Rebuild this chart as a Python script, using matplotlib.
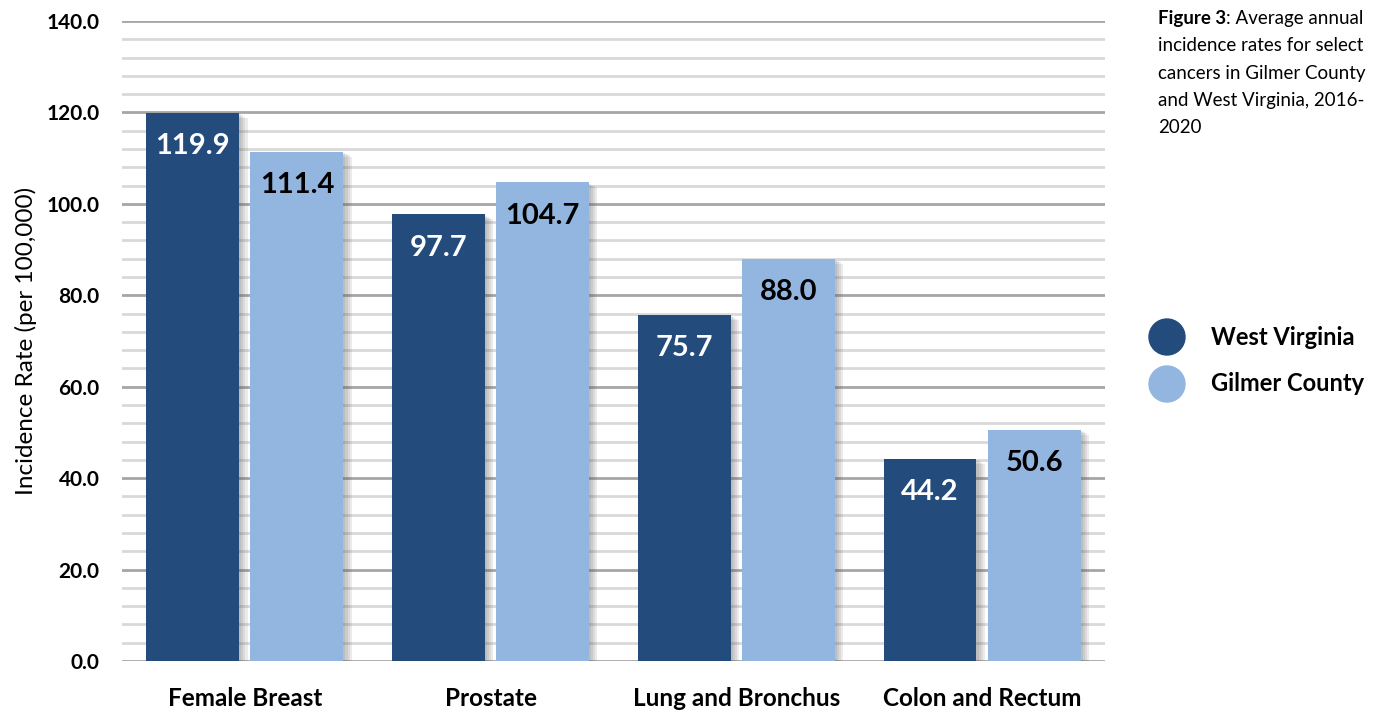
import matplotlib
matplotlib.use("Agg")
import matplotlib.pyplot as plt
import matplotlib.patheffects as pe
from matplotlib.patches import Circle
import numpy as np

plt.rcParams['font.family'] = ['Lato', 'DejaVu Sans']

# data
categories = ["Female Breast", "Prostate", "Lung and Bronchus", "Colon and Rectum"]
west_virginia = [119.9, 97.7, 75.7, 44.2]
gilmer_county = [111.4, 104.7, 88.0, 50.6]
series_names = ["West Virginia", "Gilmer County"]
caption_lines = ["incidence rates for select", "cancers in Gilmer County",
                 "and West Virginia, 2016-", "2020"]

dark_blue = "#234B7B"
light_blue = "#93B6E0"

fig = plt.figure(figsize=(13.89, 7.11), dpi=100)
ax = fig.add_axes([0.0878, 0.0703, 0.7077, 0.9002])

x = np.arange(len(categories))
width = 0.378
offset = 0.212

# soft drop shadow: a few stacked translucent copies
shadow = [pe.SimplePatchShadow(offset=(d, -d * 0.6), shadow_rgbFace="#606060", alpha=0.12)
          for d in (1.5, 3, 4.5, 6)] + [pe.Normal()]
bars_wv = ax.bar(x - offset, west_virginia, width, color=dark_blue, zorder=3)
bars_gc = ax.bar(x + offset, gilmer_county, width, color=light_blue, zorder=3)
for b in list(bars_wv) + list(bars_gc):
    b.set_path_effects(shadow)

for b, v in zip(bars_wv, west_virginia):
    ax.annotate(f"{v:.1f}", (b.get_x() + b.get_width() / 2, v), xytext=(0, -24),
                textcoords="offset points", ha="center", va="center",
                fontsize=21, fontweight="bold", color="white", zorder=4)
for b, v in zip(bars_gc, gilmer_county):
    ax.annotate(f"{v:.1f}", (b.get_x() + b.get_width() / 2, v), xytext=(0, -24),
                textcoords="offset points", ha="center", va="center",
                fontsize=21, fontweight="bold", color="black", zorder=4)

ax.set_xlim(-0.5, 3.5)
ax.set_ylim(0, 140)
ax.set_yticks(np.arange(0, 141, 20))
ax.set_yticklabels([f"{t:.1f}" for t in np.arange(0, 141, 20)], fontsize=15, fontweight="bold")
ax.set_yticks(np.arange(0, 141, 4), minor=True)
ax.set_xticks(x)
ax.set_xticklabels(categories, fontsize=17.5, fontweight="bold")
ax.tick_params(axis="y", which="both", length=0, pad=16)
ax.tick_params(axis="x", length=0, pad=19)

ax.grid(axis="y", which="minor", color="#D9D9D9", linewidth=2, zorder=0)
ax.grid(axis="y", which="major", color="#A6A6A6", linewidth=2, zorder=1)
for s in ax.spines.values():
    s.set_visible(False)

ax.set_ylabel("Incidence Rate (per 100,000)", fontsize=17.5, labelpad=7)

# caption
t1 = fig.text(1158 / 1389, 1 - 24 / 711, "Figure 3", fontsize=13.5, fontweight="bold",
              va="baseline", ha="left")
ax.annotate(": Average annual", xy=(1, 0), xycoords=t1, va="bottom", ha="left",
            fontsize=13.5, annotation_clip=False)
for i, line in enumerate(caption_lines):
    fig.text(1158 / 1389, 1 - (24 + 27.3 * (i + 1)) / 711, line, fontsize=13.5,
             va="baseline", ha="left")

# legend
for name, col, yy in zip(series_names, [dark_blue, light_blue], [337, 384]):
    fig.patches.append(Circle((1167, 711 - yy), 18, transform=None, color=col,
                              figure=fig))
    fig.text(1211 / 1389, 1 - yy / 711, name, fontsize=17, fontweight="bold",
             va="center", ha="left")

fig.savefig("out.png", dpi=100)
